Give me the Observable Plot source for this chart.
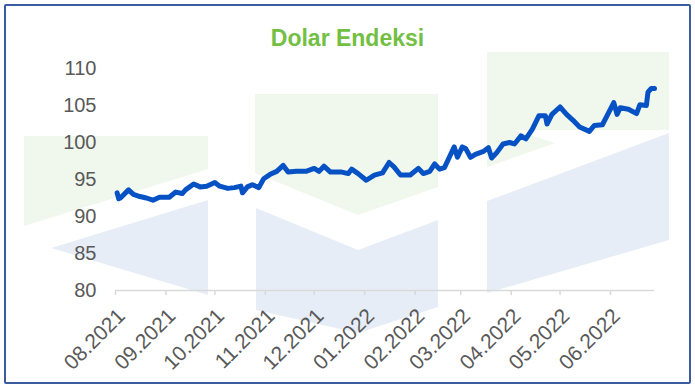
<!DOCTYPE html>
<html>
<head>
<meta charset="utf-8">
<script src="https://cdn.jsdelivr.net/npm/d3@7"></script>
<script src="https://cdn.jsdelivr.net/npm/@observablehq/plot@0.6"></script>
<style>
  html, body { margin: 0; padding: 0; background: #ffffff; }
  #wrap { position: relative; width: 695px; height: 390px; overflow: hidden; font-family: "Liberation Sans", Arial, sans-serif; }
  #frame { position: absolute; left: 4px; top: 4px; width: 683px; height: 376px; border: 2px solid #3a5ba0; border-radius: 2px; }
  #title { position: absolute; left: 0; width: 695px; top: 27px; text-align: center; font-size: 23px; line-height: 23px; font-weight: bold; color: #72bf44; }
  #mark { position: absolute; left: 0; top: 0; }
  #chart { position: absolute; left: 0; top: 0; }
</style>
</head>
<body>
<div id="wrap">
  <svg id="mark" width="695" height="390">
    <g fill="#f0f7ec">
      <polygon points="24,136 208,136 208,169 24,226"/>
      <polygon points="255,94 438,94 438,187 358,215 255,173"/>
      <polygon points="487,52 669,52 669,130 515,130 555,143 487,167"/>
    </g>
    <g fill="#e7edf7">
      <polygon points="51,248 208,200 208,295"/>
      <polygon points="256,208 358,250 438,220 438,307 358,333 256,310"/>
      <polygon points="487,201 669,133 669,240 487,293"/>
    </g>
  </svg>
  <div id="frame"></div>
  <div id="title">Dolar Endeksi</div>
  <div id="chart"></div>
</div>
<script>
const title = "Dolar Endeksi";

const dates = [
  "2021-08-02","2021-08-03","2021-08-04","2021-08-09","2021-08-12","2021-08-16","2021-08-20","2021-08-24","2021-08-28",
  "2021-09-03","2021-09-07","2021-09-11","2021-09-13","2021-09-18","2021-09-22","2021-09-26",
  "2021-10-01","2021-10-04","2021-10-09","2021-10-13","2021-10-17","2021-10-18","2021-10-21","2021-10-24","2021-10-28","2021-10-31",
  "2021-11-04","2021-11-08","2021-11-12","2021-11-15","2021-11-20","2021-11-26",
  "2021-12-01","2021-12-04","2021-12-07","2021-12-11","2021-12-18","2021-12-22","2021-12-24","2021-12-28",
  "2022-01-02","2022-01-07","2022-01-12","2022-01-16","2022-01-19","2022-01-23","2022-01-29",
  "2022-02-03","2022-02-06","2022-02-10","2022-02-13","2022-02-16","2022-02-19","2022-02-22","2022-02-25","2022-02-27",
  "2022-03-02","2022-03-04","2022-03-07","2022-03-10","2022-03-15","2022-03-18","2022-03-20","2022-03-23","2022-03-27","2022-03-31",
  "2022-04-03","2022-04-07","2022-04-10","2022-04-14","2022-04-18","2022-04-22","2022-04-23","2022-04-26",
  "2022-05-01","2022-05-05","2022-05-09","2022-05-13","2022-05-19","2022-05-22","2022-05-27","2022-05-31",
  "2022-06-03","2022-06-05","2022-06-07","2022-06-12","2022-06-17","2022-06-19","2022-06-23","2022-06-24","2022-06-26","2022-06-28"
];
const values = [
  93.2,92.4,92.5,93.6,93.0,92.7,92.5,92.2,92.6,
  92.6,93.3,93.1,93.6,94.4,94.0,94.1,
  94.6,94.1,93.8,93.9,94.1,93.2,94.0,94.3,93.9,95.1,
  95.7,96.1,96.9,96.0,96.1,96.1,
  96.5,96.1,96.8,96.0,96.0,95.8,96.4,95.8,
  94.9,95.6,95.9,97.3,96.7,95.6,95.6,
  96.5,95.8,96.1,97.1,96.4,96.6,98.0,99.4,98.0,
  99.4,99.2,98.0,98.4,98.8,99.3,97.9,98.6,99.8,100.0,
  99.8,100.9,100.5,101.8,103.6,103.6,102.5,103.8,
  104.8,103.8,103.0,102.1,101.5,102.3,102.4,104.1,
  105.4,103.8,104.7,104.5,103.9,105.1,105.0,106.8,107.3,107.3
];
const yTicks = [80, 85, 90, 95, 100, 105, 110];
const xTickLabels = ["08.2021","09.2021","10.2021","11.2021","12.2021","01.2022","02.2022","03.2022","04.2022","05.2022","06.2022"];

const parse = d3.utcParse("%Y-%m-%d");
const data = dates.map((d, i) => ({date: parse(d), value: values[i]}));
const xTicks = xTickLabels.map(s => { const [m, y] = s.split("."); return new Date(Date.UTC(+y, +m - 1, 1)); });
const fmt = d3.utcFormat("%m.%Y");

const chart = Plot.plot({
  width: 695,
  height: 390,
  marginLeft: 115,
  marginRight: 41,
  marginTop: 68,
  marginBottom: 100,
  style: {background: "transparent", fontFamily: "Liberation Sans, Arial, sans-serif", fontSize: "20px", color: "#595959", overflow: "visible"},
  x: {type: "utc", domain: [new Date(Date.UTC(2021, 7, 1)), new Date(Date.UTC(2022, 5, 28))]},
  y: {domain: [80, 110]},
  marks: [
    Plot.axisY({ticks: yTicks, tickSize: 0, tickPadding: 19, label: null, fill: "#595959", fontSize: 20}),
    Plot.ruleY([80], {stroke: "#d9d9d9", strokeWidth: 1.5}),
    Plot.axisX({ticks: xTicks, tickFormat: () => "", tickSize: 5, stroke: "#d9d9d9", strokeWidth: 1.5, label: null}),
    Plot.axisX({ticks: xTicks, tickFormat: fmt, tickRotate: -45, tickSize: 0, tickPadding: 22, dx: 6, fill: "#595959", fontSize: 21, label: null}),
    Plot.line(data, {x: "date", y: "value", stroke: "#0652c4", strokeWidth: 5, strokeLinejoin: "round", strokeLinecap: "round"})
  ]
});
document.getElementById("chart").appendChild(chart);
</script>
</body>
</html>
